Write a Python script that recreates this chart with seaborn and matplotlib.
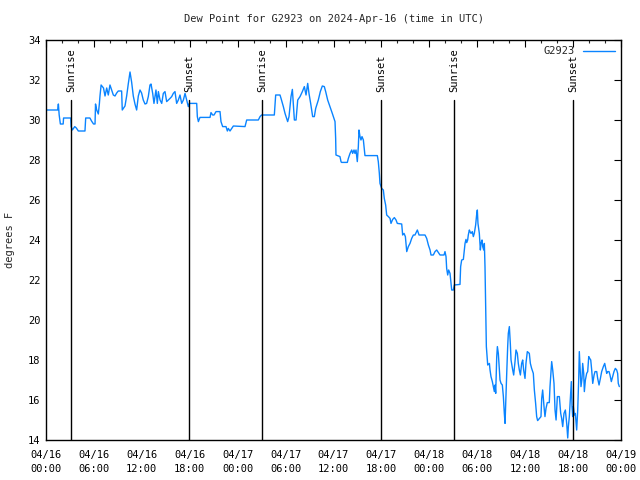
import matplotlib
matplotlib.use("Agg")
import matplotlib.pyplot as plt
import matplotlib.dates as mdates
import seaborn as sns
import pandas as pd

# hours after 2024-04-16 00:00 UTC
hours = [
    0.0, 1.46, 1.55, 1.65, 1.8, 2.15, 2.2, 3.1, 3.15, 3.3, 3.6, 3.8, 4.05, 4.88, 4.97, 5.5, 5.7, 5.95, 6.14, 6.2,
    6.35, 6.55, 6.68, 6.76, 6.9, 7.2, 7.39, 7.6, 7.8, 8.01, 8.22, 8.43, 8.64, 8.85, 9.05, 9.47, 9.55, 9.89, 10.1, 10.3,
    10.52, 10.72, 10.93, 11.14, 11.35, 11.56, 11.77, 11.97, 12.18, 12.4,
    12.6, 12.81, 13.02, 13.15, 13.36, 13.52, 13.65, 13.77, 13.94, 14.07, 14.28, 14.49, 14.69, 14.9, 15.11, 15.32,
    15.53, 15.74, 15.94, 16.15, 16.36, 16.57, 16.78, 16.99, 17.2, 17.41, 17.61, 17.82, 17.95, 18.87, 18.95, 19.08,
    19.28, 20.54, 20.66, 20.87, 21.04, 21.29, 21.79, 21.91, 22.12, 22.54, 22.71, 22.83, 23.04, 23.25, 23.46, 24.92,
    25.13, 26.59, 26.8, 27.0, 28.59, 28.76, 29.3, 29.43, 29.72, 29.93, 30.26, 30.43, 30.68, 30.85, 30.97, 31.1, 31.31,
    31.52, 31.81, 32.1, 32.35, 32.56, 32.77, 32.93, 33.14, 33.39, 33.6, 33.77, 34.1, 34.35, 34.6, 34.85, 35.02, 35.27,
    35.56, 35.85, 36.19, 36.27, 36.31, 36.81, 36.94,
    37.0, 37.73, 37.86, 38.07, 38.28, 38.4, 38.57, 38.69, 38.82, 38.98, 39.11, 39.19, 39.32, 39.44, 39.57, 39.74,
    39.94, 41.49, 41.61, 41.74, 41.82, 42.03, 42.24, 42.36, 42.53, 42.66, 42.87, 43.08, 43.2, 43.41, 43.62, 43.83,
    43.99, 44.54, 44.66, 44.83, 45.0, 45.17, 45.37, 45.58, 45.79, 46.0, 46.2, 46.5, 46.71, 47.46, 47.67, 47.88, 48.09,
    48.21, 48.5, 48.71, 48.92, 49.13, 49.34, 49.84, 49.96, 50.09, 50.17, 50.3, 50.42, 50.59,
    50.67, 50.8, 51.01, 51.13, 51.84, 51.92, 52.05, 52.26, 52.38, 52.47, 52.59, 52.68, 52.8, 52.88, 53.01, 53.09,
    53.22, 53.38, 53.51, 53.63, 53.8, 53.92, 54.01, 54.09, 54.26, 54.39, 54.47, 54.6, 54.68, 54.81, 54.89, 54.97,
    55.06, 55.14, 55.31, 55.52, 55.6, 55.72, 55.89, 56.02, 56.14, 56.23, 56.31, 56.44, 56.52, 56.64, 56.77, 56.85,
    56.98, 57.14, 57.27, 57.39, 57.48, 57.56, 57.69, 57.81, 57.89, 58.02, 58.14, 58.23, 58.44, 58.56, 58.73, 58.85,
    59.02, 59.14, 59.27, 59.4, 59.56, 59.69, 59.81, 59.98, 60.1, 60.27, 60.52, 60.65, 60.81, 61.02, 61.15, 61.31,
    61.44, 61.56,
    61.98, 62.07, 62.19, 62.36, 62.48, 62.61, 62.77, 63.02, 63.11, 63.24, 63.32, 63.45, 63.61, 63.74, 63.87, 64.03,
    64.28, 64.45, 64.57, 64.7, 64.86, 65.03, 65.2, 65.33, 65.41, 65.53, 65.7, 65.78, 65.87, 65.95, 66.03, 66.16,
    66.28, 66.45, 66.58, 66.7, 66.78, 66.87, 66.99, 67.12, 67.2, 67.33, 67.41, 67.54, 67.7, 67.83, 67.96, 68.08,
    68.21, 68.33, 68.46, 68.63, 68.75, 68.96, 69.08, 69.25, 69.42, 69.58, 69.79, 69.96, 70.08, 70.21, 70.33, 70.5,
    70.62, 70.79, 70.96, 71.12, 71.29, 71.46, 71.58, 71.66, 71.79,
]

dewpoint = [
    30.5, 30.5, 30.8, 30.25, 29.8, 29.8, 30.1, 30.1, 29.67, 29.5, 29.67, 29.6, 29.45, 29.45, 30.1, 30.1, 29.95, 29.8, 29.8, 30.8,
    30.5, 30.3, 30.8, 31.2, 31.75, 31.6, 31.2, 31.6, 31.25, 31.75, 31.5, 31.25, 31.2, 31.35, 31.45, 31.45, 30.5, 30.7, 31.2, 31.8,
    32.4, 31.9, 31.2, 30.8, 30.5, 31.2, 31.5, 31.35, 31.0, 30.8,
    30.83, 31.17, 31.75, 31.8, 31.33, 30.83, 31.17, 31.5, 30.83, 31.42, 31.0, 30.83, 31.33, 31.42, 30.92, 31.0,
    31.08, 31.17, 31.33, 31.42, 30.83, 31.0, 31.25, 30.83, 31.0, 31.33, 31.0, 30.67, 30.83, 30.83, 30.17, 29.92,
    30.13, 30.13, 30.37, 30.25, 30.25, 30.42, 30.42, 29.92, 29.67, 29.67, 29.45, 29.58, 29.45, 29.58, 29.7, 29.67,
    30.0, 30.0, 30.17, 30.25, 30.25, 31.25, 31.25, 31.08, 30.67, 30.33, 29.92, 30.17, 31.17, 31.53, 30.83, 30.0, 30.0,
    31.0, 31.17, 31.42, 31.67, 31.25, 31.83, 31.33, 30.83, 30.17, 30.17, 30.58, 31.0, 31.42, 31.7, 31.67, 31.42, 31.0,
    30.67, 30.33, 29.92, 29.08, 28.25, 28.17, 27.92,
    27.88, 27.88, 28.08, 28.33, 28.5, 28.33, 28.5, 28.33, 28.5, 27.92, 28.67, 29.5, 29.17, 29.0, 29.17, 29.0,
    28.22, 28.22, 27.92, 27.33, 26.83, 26.58, 26.5, 26.08, 25.75, 25.25, 25.17, 25.08, 24.83, 25.03, 25.12, 25.0,
    24.83, 24.8, 24.25, 24.33, 24.17, 23.42, 23.67, 23.83, 24.08, 24.25, 24.25, 24.5, 24.25, 24.25, 24.08, 23.75, 23.5,
    23.25, 23.25, 23.42, 23.5, 23.37, 23.25, 23.25, 23.42, 23.17, 22.58, 22.25, 22.5, 22.33,
    22.0, 21.5, 21.5, 21.75, 21.78, 22.67, 23.0, 23.03, 23.5, 23.83, 24.03, 23.87, 24.0, 24.25, 24.5, 24.42,
    24.33, 24.42, 24.17, 24.33, 24.75, 25.25, 25.5, 24.83, 24.33, 23.5, 23.83, 24.0, 23.67, 23.5, 23.83, 22.67,
    20.67, 18.67, 17.75, 17.83, 17.5, 17.17, 16.92, 16.67, 16.42, 16.75, 16.33, 18.17, 18.67, 18.33, 17.5, 17.0,
    16.83, 16.75, 16.17, 15.33, 14.83, 15.83, 17.33, 18.67, 19.33, 19.67, 18.83, 18.0, 17.5, 17.25, 17.92, 18.5,
    18.33, 17.83, 17.5, 17.25, 17.83, 18.0, 17.5, 17.08, 17.83, 18.42, 18.33, 17.83, 17.58, 17.33, 16.5, 15.83,
    15.17, 14.97,
    15.17, 16.08, 16.5, 15.67, 15.17, 15.58, 15.87, 15.87, 16.67, 17.42, 17.92, 17.5, 16.83, 15.5, 15.0, 16.17,
    16.17, 15.33, 15.08, 14.67, 15.33, 15.5, 14.83, 14.1, 14.67, 15.17, 16.33, 16.92, 15.67, 15.17, 15.67, 15.25,
    15.33, 14.5, 15.5, 17.0, 18.42, 17.67, 16.67, 17.08, 17.83, 17.33, 16.42, 17.0, 17.33, 17.42, 18.17, 18.08,
    18.0, 17.5, 16.83, 17.25, 17.42, 17.42, 17.08, 16.75, 17.08, 17.42, 17.67, 17.83, 17.58, 17.33, 17.42, 17.42,
    17.25, 16.92, 17.17, 17.42, 17.58, 17.5, 17.33, 16.83, 16.67,
]

sun_events = ["Sunrise", "Sunset", "Sunrise", "Sunset", "Sunrise", "Sunset"]
sun_hours = [3.12, 17.95, 27.1, 42.0, 51.12, 66.03]

station = "G2923"
title = "Dew Point for G2923 on 2024-Apr-16 (time in UTC)"
ylabel = "degrees F"

start = pd.Timestamp("2024-04-16 00:00")
df = pd.DataFrame({
    "time": start + pd.to_timedelta(hours, unit="h"),
    "dewpoint": dewpoint,
})

sns.set_theme(style="white")
plt.rcParams["font.family"] = ["DejaVu Sans Mono"]
plt.rcParams["font.size"] = 7

fig = plt.figure(figsize=(6.4, 4.8), dpi=100)
ax = fig.add_axes([46 / 640, 40 / 480, 575 / 640, 400 / 480])

sns.lineplot(data=df, x="time", y="dewpoint", ax=ax, color="#0a84ff",
             linewidth=1.0, label=station, estimator=None, sort=False)

ax.set_xlim(start, start + pd.Timedelta(hours=72))
ax.set_ylim(14, 34)
ax.set_yticks(range(14, 35, 2))

for name, h in zip(sun_events, sun_hours):
    t = start + pd.Timedelta(hours=h)
    ax.plot([t, t], [14, 31.0], color="black", linewidth=1.0)
    ax.text(t, 31.4, name, rotation=90, ha="center", va="bottom",
            fontsize=7.5, color="black")

ax.xaxis.set_major_locator(mdates.HourLocator(byhour=[0, 6, 12, 18]))
ax.xaxis.set_minor_locator(mdates.HourLocator(byhour=range(0, 24, 2)))
ax.xaxis.set_major_formatter(mdates.DateFormatter("%m/%d\n%H:%M"))

ax.tick_params(axis="both", which="major", direction="in", length=5, width=0.8,
               top=True, right=True, labelsize=7.5, colors="black", pad=4)
ax.tick_params(axis="x", which="major", pad=7)
ax.tick_params(axis="both", which="minor", direction="in", length=2.5, width=0.8,
               top=True, right=True)
for lbl in ax.get_xticklabels():
    lbl.set_linespacing(1.5)

for s in ax.spines.values():
    s.set_color("black")
    s.set_linewidth(1.0)

ax.set_xlabel("")
ax.set_ylabel(ylabel, fontsize=7.5, labelpad=9)
ax.set_title(title, fontsize=7.5, pad=13)

leg = ax.legend(loc="upper right", frameon=False, markerfirst=False,
                fontsize=7.5, handlelength=3.0, borderaxespad=0.2)

fig.savefig("out.png", dpi=100)
